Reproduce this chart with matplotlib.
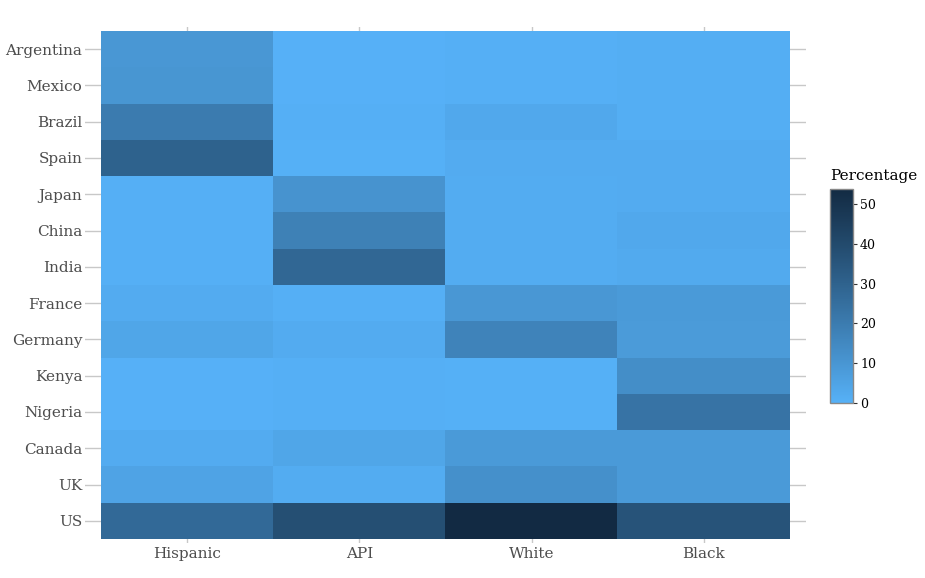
import numpy as np
import matplotlib
matplotlib.use("Agg")
import matplotlib.pyplot as plt
from matplotlib.colors import ListedColormap

# data (percentage)
countries = ["Argentina", "Mexico", "Brazil", "Spain", "Japan", "China", "India",
             "France", "Germany", "Kenya", "Nigeria", "Canada", "UK", "US"]
groups = ["Hispanic", "API", "White", "Black"]

hispanic = [9.5, 10, 20, 30, 0.5, 0.5, 0.5, 2, 4, 0.2, 0.2, 2, 5, 27]
api = [0.2, 0.2, 0.5, 0.3, 11, 18, 28, 0.5, 2, 0.5, 0.5, 4, 1.5, 38]
white = [0.5, 0.5, 3, 2, 1.5, 1.5, 1.5, 9.5, 17, 0.3, 0.3, 8.5, 12, 53.8]
black = [1, 1, 1, 2, 2, 3, 2.5, 8.5, 8, 13, 23, 8.5, 8.5, 36]


# ggplot-like gradient (#56B1F7 -> #132B43), interpolated in Lab space
def hex_to_rgb(h):
    h = h.lstrip("#")
    return np.array([int(h[i:i + 2], 16) / 255 for i in (0, 2, 4)])


M = np.array([[0.4124, 0.3576, 0.1805],
              [0.2126, 0.7152, 0.0722],
              [0.0193, 0.1192, 0.9505]])
WHITE = np.array([0.95047, 1.0, 1.08883])


def rgb_to_lab(c):
    lin = np.where(c <= 0.04045, c / 12.92, ((c + 0.055) / 1.055) ** 2.4)
    xyz = M @ lin / WHITE
    f = np.where(xyz > 216 / 24389, np.cbrt(xyz), (24389 / 27 * xyz + 16) / 116)
    return np.array([116 * f[1] - 16, 500 * (f[0] - f[1]), 200 * (f[1] - f[2])])


def lab_to_rgb(lab):
    fy = (lab[0] + 16) / 116
    fx = fy + lab[1] / 500
    fz = fy - lab[2] / 200
    f = np.array([fx, fy, fz])
    xyz = np.where(f ** 3 > 216 / 24389, f ** 3, (116 * f - 16) / (24389 / 27)) * WHITE
    lin = np.linalg.solve(M, xyz)
    c = np.where(lin <= 0.0031308, 12.92 * lin, 1.055 * np.clip(lin, 0, None) ** (1 / 2.4) - 0.055)
    return np.clip(c, 0, 1)


lo = rgb_to_lab(hex_to_rgb("#56B1F7"))
hi = rgb_to_lab(hex_to_rgb("#132B43"))
cmap = ListedColormap([lab_to_rgb(lo + (hi - lo) * t) for t in np.linspace(0, 1, 256)])

Z = np.array([hispanic, api, white, black]).T
vmax = Z.max()

fig = plt.figure(figsize=(9.25, 5.78), dpi=100)
ax = fig.add_axes([0.0919, 0.0606, 0.7795, 0.8927])

# grid lines behind tiles
for i in range(len(countries)):
    ax.axhline(i, color="#c8c8c8", lw=1, zorder=0)
for j in range(len(groups)):
    ax.axvline(j, color="#c8c8c8", lw=1, zorder=0)

im = ax.imshow(Z, cmap=cmap, vmin=0, vmax=vmax, aspect="auto",
               extent=(-0.5, 3.5, len(countries) - 0.5, -0.5), zorder=1,
               interpolation="nearest")

ax.set_xlim(-0.593, 3.593)
ax.set_ylim(13.61, -0.61)
ax.set_xticks(range(len(groups)))
ax.set_xticklabels(groups)
ax.set_yticks(range(len(countries)))
ax.set_yticklabels(countries)
ax.tick_params(length=0, labelsize=11, labelcolor="#4d4d4d", pad=2)
ax.tick_params(axis="x", pad=3)
for lbl in ax.get_xticklabels() + ax.get_yticklabels():
    lbl.set_family("DejaVu Serif")
for s in ax.spines.values():
    s.set_visible(False)

# colorbar
cax = fig.add_axes([0.8973, 0.3028, 0.0249, 0.3702])
cb = fig.colorbar(im, cax=cax, ticks=[0, 10, 20, 30, 40, 50])
cb.outline.set_edgecolor("#888888")
cb.outline.set_linewidth(1)
cax.tick_params(labelsize=9, length=3, width=0.8, color="#333333", pad=2)
for lbl in cax.get_yticklabels():
    lbl.set_family("DejaVu Serif")
fig.text(0.8973, 0.683, "Percentage", family="DejaVu Serif", fontsize=11,
         ha="left", va="bottom", color="black")

fig.savefig("out.png", dpi=100)
